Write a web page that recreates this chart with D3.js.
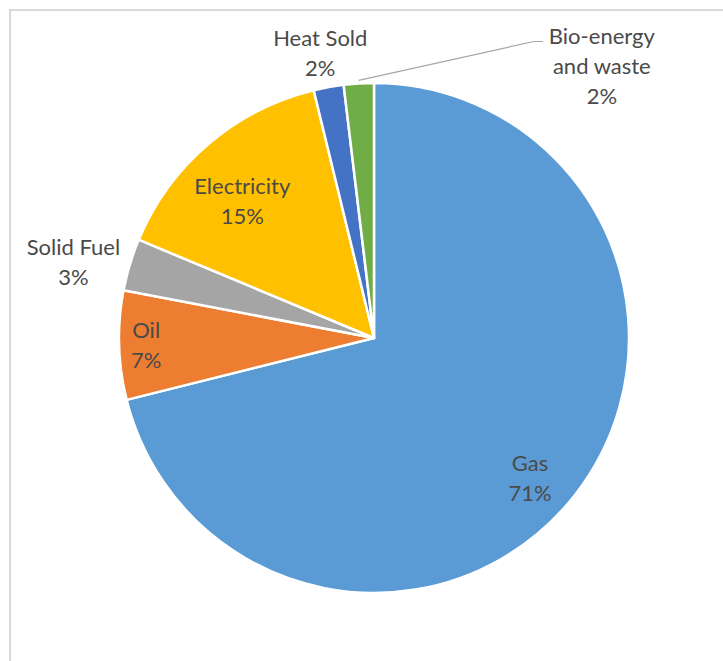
<!DOCTYPE html>
<html>
<head>
<meta charset="utf-8">
<script src="https://cdn.jsdelivr.net/npm/d3@7"></script>
<style>
  html, body { margin: 0; padding: 0; background: #fff; }
  svg { display: block; }
</style>
</head>
<body>
<script>
// ---- data ----
const categories = ["Gas", "Oil", "Solid Fuel", "Electricity", "Heat Sold", "Bio-energy and waste"];
const values = [71.1, 6.9, 3.3, 14.9, 1.9, 1.9];
const percentLabels = ["71%", "7%", "3%", "15%", "2%", "2%"];
const nameLines = [["Gas"], ["Oil"], ["Solid Fuel"], ["Electricity"], ["Heat Sold"], ["Bio-energy", "and waste"]];
const colors = ["#5B9BD5", "#ED7D31", "#A5A5A5", "#FFC000", "#4472C4", "#70AD47"];

// ---- layout ----
const W = 723, H = 661;
const cx = 374, cy = 338, R = 255;
// label placement: polar (degrees clockwise from top, radius as fraction of R)
const labelPolar = [
  {a: 131.9, r: 0.822},
  {a: 268.2, r: 0.894},
  {a: 284.2, r: 1.216},
  {a: 316.1, r: 0.745},
  {a: 349.3, r: 1.135},
  {a: 40.0, r: 1.390, leader: true}
];

const svg = d3.select("body").append("svg").attr("width", W).attr("height", H);

// chart border (extends beyond right and bottom)
svg.append("rect")
  .attr("x", 10).attr("y", 10).attr("width", 800).attr("height", 800)
  .attr("fill", "none").attr("stroke", "#d9d9d9").attr("stroke-width", 2);

const pie = d3.pie().sort(null).value(d => d.v);
const data = categories.map((c, i) => ({c, v: values[i], i}));
const arcs = pie(data);
const arc = d3.arc().innerRadius(0).outerRadius(R);

const g = svg.append("g").attr("transform", `translate(${cx},${cy})`);
g.selectAll("path.slice").data(arcs).enter().append("path")
  .attr("class", "slice")
  .attr("d", arc)
  .attr("fill", d => colors[d.data.i])
  .attr("stroke", "#fff").attr("stroke-width", 2.5).attr("stroke-linejoin", "round");

function polar(aDeg, r) {
  const a = aDeg * Math.PI / 180;
  return [r * Math.sin(a), -r * Math.cos(a)];
}

const fontFamily = "Lato, 'Noto Sans', sans-serif";
const fs = 22, lh = 30;

arcs.forEach((d, k) => {
  const lp = labelPolar[k];
  const [lx, ly] = polar(lp.a, lp.r * R);
  const lines = nameLines[k].concat([percentLabels[k]]);
  const t = g.append("text")
    .attr("text-anchor", "middle")
    .attr("font-family", fontFamily)
    .attr("font-size", fs)
    .attr("fill", "#4a4a4a");
  const y0 = ly - (lines.length - 1) * lh / 2;
  lines.forEach((s, j) => {
    t.append("tspan").attr("x", lx).attr("y", y0 + j * lh).attr("dy", "0.35em").text(s);
  });
  if (lp.leader) {
    const mid = (d.startAngle + d.endAngle) / 2 * 180 / Math.PI;
    const [sx, sy] = polar(mid, R + 3);
    const ex = lx - 59, ey = y0 + 5;
    g.append("path")
      .attr("d", `M${sx},${sy}L${ex - 9},${ey}L${ex},${ey}`)
      .attr("fill", "none").attr("stroke", "#a6a6a6").attr("stroke-width", 1.2);
  }
});
</script>
</body>
</html>
